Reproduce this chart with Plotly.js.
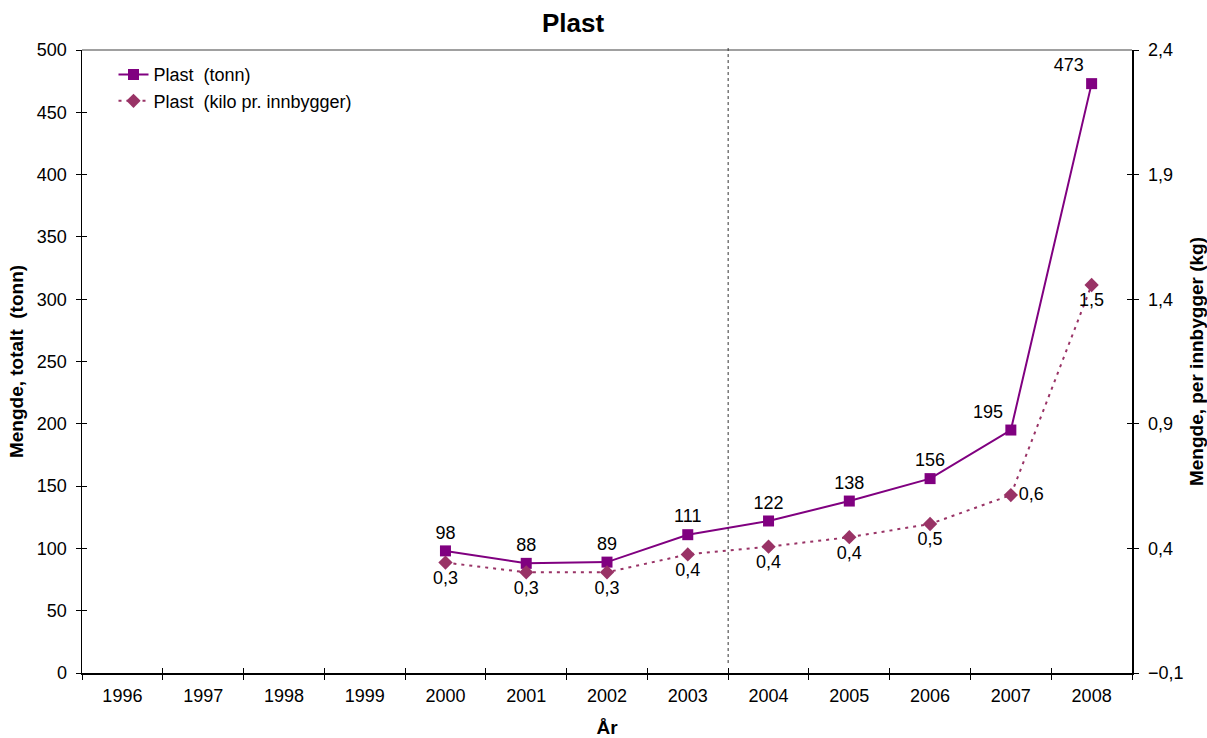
<!DOCTYPE html>
<html>
<head>
<meta charset="utf-8">
<script src="https://cdn.plot.ly/plotly-3.0.1.min.js"></script>
<style>html,body{margin:0;padding:0;background:#fff;}#chart{width:1207px;height:738px;}</style>
</head>
<body>
<div id="chart"></div>
<script>
var allYears = ['1996','1997','1998','1999','2000','2001','2002','2003','2004','2005','2006','2007','2008'];
var dataYears = ['2000','2001','2002','2003','2004','2005','2006','2007','2008'];
var tonn = [98, 88, 89, 111, 122, 138, 156, 195, 473];
var kiloPerInnbygger = [0.343, 0.304, 0.304, 0.376, 0.407, 0.445, 0.498, 0.614, 1.457];
var tonnLabelPos = ['top center','top center','top center','top center','top center','top center','top center','top left','top left'];
var kiloLabelPos = ['bottom center','bottom center','bottom center','bottom center','bottom center','bottom center','bottom center','middle right','bottom center'];

var font = 'Arial, "Liberation Sans", sans-serif';
var tonnText = tonn.map(function(v){return String(v);});
var kiloText = kiloPerInnbygger.map(function(v){return v.toFixed(1).replace('.', ',');});

var traces = [
  {
    type: 'scatter', mode: 'lines+markers+text', name: 'Plast  (tonn)',
    x: dataYears, y: tonn, text: tonnText, textposition: tonnLabelPos,
    textfont: {family: font, size: 18, color: '#000'},
    line: {color: '#800080', width: 2},
    marker: {symbol: 'square', size: 11, color: '#800080'},
    xaxis: 'x', yaxis: 'y', cliponaxis: false
  },
  {
    type: 'scatter', mode: 'lines+markers+text', name: 'Plast  (kilo pr. innbygger)',
    x: dataYears, y: kiloPerInnbygger, text: kiloText, textposition: kiloLabelPos,
    textfont: {family: font, size: 18, color: '#000'},
    line: {color: '#993366', width: 2, dash: '3px,5px'},
    marker: {symbol: 'diamond', size: 11, color: '#993366'},
    xaxis: 'x', yaxis: 'y2', cliponaxis: false
  },
  {
    type: 'scatter', mode: 'markers', x: allYears, y: allYears.map(function(){return null;}),
    xaxis: 'x2', yaxis: 'y3', showlegend: false, hoverinfo: 'skip'
  },
  {type: 'scatter', x: [null], y: [null], xaxis: 'x', yaxis: 'y4', showlegend: false, hoverinfo: 'skip'}
];

var layout = {
  width: 1207, height: 738,
  margin: {l: 82, r: 75, t: 50, b: 65},
  paper_bgcolor: '#fff', plot_bgcolor: '#fff',
  separators: ', ',
  font: {family: font, size: 18, color: '#000'},
  title: {text: '<b>Plast</b>', font: {family: font, size: 26, color: '#000'}, x: 573/1207, xref: 'container', xanchor: 'center', y: 1 - 23/738, yref: 'container', yanchor: 'middle'},
  showlegend: true,
  legend: {x: 0.03, y: 0.99, xanchor: 'left', yanchor: 'top', font: {family: font, size: 18, color: '#000'}, bgcolor: 'rgba(0,0,0,0)', tracegroupgap: 0},
  xaxis: {
    type: 'category', categoryorder: 'array', categoryarray: allYears, range: [-0.5, 12.5],
    tickson: 'boundaries', ticks: 'outside', ticklen: 5, tickcolor: '#000',
    showline: true, linecolor: '#000', linewidth: 1.5, showgrid: false, zeroline: false,
    tickfont: {family: font, size: 18, color: '#000'}, ticklabelstandoff: 6,
    title: {text: '<b>År</b>', font: {family: font, size: 19, color: '#000'}, standoff: 18},
    fixedrange: true
  },
  xaxis2: {
    type: 'category', categoryorder: 'array', categoryarray: allYears, range: [-0.5, 12.5],
    overlaying: 'x', anchor: 'y', tickson: 'boundaries', ticks: 'inside', ticklen: 5, tickcolor: '#000',
    showticklabels: false, showline: false, showgrid: false, zeroline: false
  },
  yaxis: {
    range: [0, 500], tick0: 0, dtick: 50, ticks: 'outside', ticklen: 5, tickcolor: '#000',
    showline: true, linecolor: '#000', linewidth: 1.5, showgrid: false, zeroline: false,
    tickfont: {family: font, size: 18, color: '#000'}, ticklabelstandoff: 5,
    title: {text: '<b>Mengde, totalt  (tonn)</b>', font: {family: font, size: 19, color: '#000'}, standoff: 8}
  },
  yaxis2: {
    overlaying: 'y', side: 'right', anchor: 'x',
    range: [-0.1, 2.4], tick0: -0.1, dtick: 0.5, tickformat: '.1f', ticks: 'outside', ticklen: 5, tickcolor: '#000',
    showline: true, linecolor: '#000', linewidth: 1.5, showgrid: false, zeroline: false,
    tickfont: {family: font, size: 18, color: '#000'}, ticklabelstandoff: 6,
    title: {text: '<b>Mengde, per innbygger (kg)</b>', font: {family: font, size: 19, color: '#000'}, standoff: 13}
  },
  yaxis3: {
    overlaying: 'y', anchor: 'x', side: 'left', range: [0, 500], tick0: 0, dtick: 50,
    ticks: 'inside', ticklen: 5, tickcolor: '#000', showticklabels: false, showline: false, showgrid: false, zeroline: false
  },
  yaxis4: {
    overlaying: 'y', anchor: 'x', side: 'right', range: [-0.1, 2.4], tick0: -0.1, dtick: 0.5,
    ticks: 'inside', ticklen: 5, tickcolor: '#000', showticklabels: false, showline: false, showgrid: false, zeroline: false
  },
  shapes: [
    {type: 'line', xref: 'paper', yref: 'paper', x0: 0, x1: 1, y0: 1, y1: 1, line: {color: '#808080', width: 1.5}},
    {type: 'line', xref: 'x', yref: 'paper', x0: 7.5, x1: 7.5, y0: 0.016, y1: 1.008, line: {color: '#333', width: 1, dash: 'dot'}}
  ]
};

Plotly.newPlot('chart', traces, layout, {displayModeBar: false, staticPlot: true});
</script>
</body>
</html>
